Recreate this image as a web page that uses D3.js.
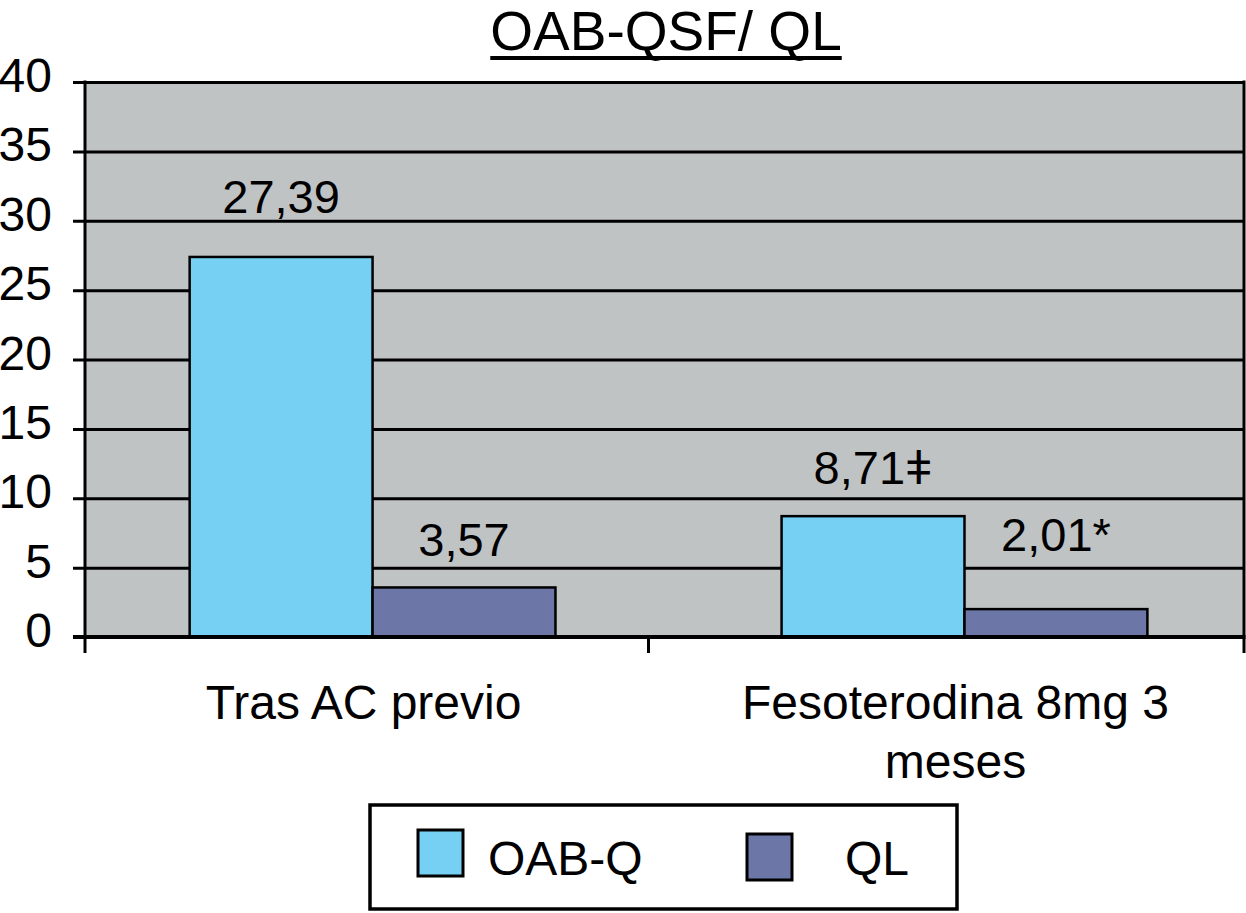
<!DOCTYPE html>
<html>
<head>
<meta charset="utf-8">
<script src="https://cdn.jsdelivr.net/npm/d3@7"></script>
<style>
  html, body { margin: 0; padding: 0; background: #ffffff; }
  svg { display: block; }
  text { font-family: "Liberation Sans", Arial, Helvetica, sans-serif; fill: #000; }
</style>
</head>
<body>
<svg id="chart" width="1246" height="913"></svg>
<script>
// ---- data ----
const title = "OAB-QSF/ QL";
const categories = [["Tras AC previo"], ["Fesoterodina 8mg 3", "meses"]];
const categoryKeys = ["Tras AC previo", "Fesoterodina 8mg 3 meses"];
const seriesNames = ["OAB-Q", "QL"];
const oabqValues = [27.39, 8.71];
const qlValues = [3.57, 2.01];
const oabqLabels = ["27,39", "8,71\u01C2"];
const qlLabels = ["3,57", "2,01*"];
const yTicks = [0, 5, 10, 15, 20, 25, 30, 35, 40];

// ---- styles ----
const colors = { "OAB-Q": "#76d0f4", "QL": "#6c77a7" };
const plotBg = "#c0c3c4";
const labelDy = { "OAB-Q": [-44, -32], "QL": [-31, -58] };

const svg = d3.select("#chart");
const pLeft = 85, pRight = 1244, pTop = 82, pBottom = 637;

const y = d3.scaleLinear().domain([0, 40]).range([pBottom, pTop]);
const x0 = d3.scaleBand().domain(categoryKeys).range([pLeft, pRight])
  .paddingInner(0.382).paddingOuter(0.17).align(0.52);
const x1 = d3.scaleBand().domain(seriesNames).range([0, x0.bandwidth()]).padding(0);

// plot background
svg.append("rect").attr("x", pLeft).attr("y", pTop)
  .attr("width", pRight - pLeft).attr("height", pBottom - pTop).attr("fill", plotBg);

// gridlines + y ticks
const yAxis = d3.axisLeft(y).tickValues(yTicks).tickSize(-(pRight - pLeft)).tickSizeOuter(0).tickPadding(33);
const gy = svg.append("g").attr("transform", `translate(${pLeft},0)`).call(yAxis);
gy.select(".domain").remove();
gy.selectAll(".tick line").attr("stroke", "#000").attr("stroke-width", 3).attr("x1", -12);
gy.selectAll(".tick text").attr("font-size", 48).attr("dy", "0.2em")
  .style("font-family", '"Liberation Sans", Arial, sans-serif').attr("fill", "#000");

// bars
const groups = [
  { name: "OAB-Q", values: oabqValues, labels: oabqLabels },
  { name: "QL", values: qlValues, labels: qlLabels }
];
groups.forEach(s => {
  svg.append("g").selectAll("rect").data(s.values).join("rect")
    .attr("x", (d, i) => x0(categoryKeys[i]) + x1(s.name))
    .attr("y", d => y(d))
    .attr("width", x1.bandwidth())
    .attr("height", d => y(0) - y(d))
    .attr("fill", colors[s.name])
    .attr("stroke", "#000").attr("stroke-width", 2.5);
  svg.append("g").selectAll("text").data(s.values).join("text")
    .attr("x", (d, i) => x0(categoryKeys[i]) + x1(s.name) + x1.bandwidth() / 2)
    .attr("y", (d, i) => y(d) + labelDy[s.name][i])
    .attr("text-anchor", "middle").attr("font-size", 47)
    .text((d, i) => s.labels[i]);
});

// left axis line and right border
svg.append("line").attr("x1", pLeft).attr("x2", pLeft).attr("y1", pTop - 1.5).attr("y2", pBottom + 16)
  .attr("stroke", "#000").attr("stroke-width", 3);
svg.append("line").attr("x1", pRight).attr("x2", pRight).attr("y1", pTop - 1.5).attr("y2", pBottom + 16)
  .attr("stroke", "#000").attr("stroke-width", 3);
// bottom axis
svg.append("line").attr("x1", pLeft - 12).attr("x2", pRight + 1.5).attr("y1", pBottom).attr("y2", pBottom)
  .attr("stroke", "#000").attr("stroke-width", 4);
// middle category tick
const midX = (x0(categoryKeys[0]) + x0.bandwidth() + x0(categoryKeys[1])) / 2 - 20;
svg.append("line").attr("x1", midX).attr("x2", midX).attr("y1", pBottom).attr("y2", pBottom + 16)
  .attr("stroke", "#000").attr("stroke-width", 3);

// category labels
categories.forEach((lines, i) => {
  const cx = x0(categoryKeys[i]) + x0.bandwidth() / 2;
  const t = svg.append("text").attr("text-anchor", "middle").attr("font-size", 48);
  lines.forEach((ln, j) => {
    t.append("tspan").attr("x", cx - 9).attr("y", 719 + j * 59).text(ln);
  });
});

// title
const tt = svg.append("text").attr("x", 666).attr("y", 50).attr("text-anchor", "middle")
  .attr("font-size", 55).text(title);
const bb = tt.node().getBBox();
svg.append("line").attr("x1", bb.x).attr("x2", bb.x + bb.width).attr("y1", 58).attr("y2", 58)
  .attr("stroke", "#000").attr("stroke-width", 4);

// legend
const lg = svg.append("g");
lg.append("rect").attr("x", 370).attr("y", 805).attr("width", 587).attr("height", 104)
  .attr("fill", "#fff").attr("stroke", "#000").attr("stroke-width", 3.5);
const legendX = [418, 747];
const textX = [488, 845];
const swY = [830, 834];
seriesNames.forEach((n, i) => {
  lg.append("rect").attr("x", legendX[i]).attr("y", swY[i]).attr("width", 45).attr("height", 46)
    .attr("fill", colors[n]).attr("stroke", "#000").attr("stroke-width", 3);
  lg.append("text").attr("x", textX[i]).attr("y", 875).attr("font-size", 48).text(n);
});
</script>
</body>
</html>
